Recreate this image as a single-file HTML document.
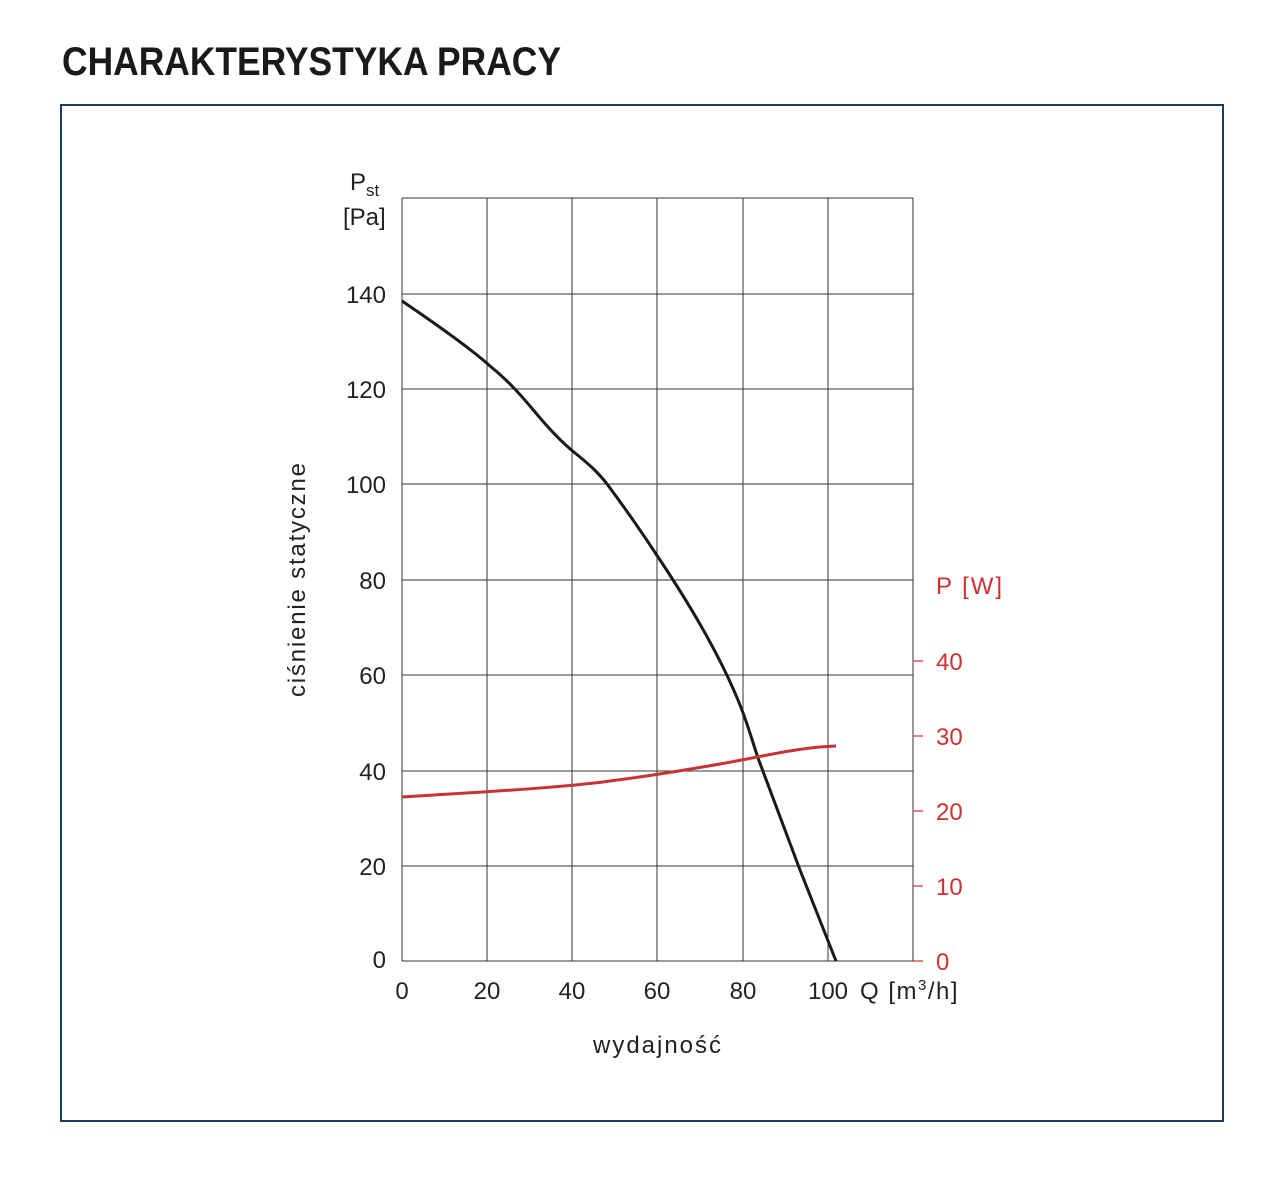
<!DOCTYPE html>
<html><head><meta charset="utf-8"><style>
html,body{margin:0;padding:0;background:#fff;}
</style></head><body>
<svg width="1280" height="1178" xmlns="http://www.w3.org/2000/svg" font-family="Liberation Sans, sans-serif">
<text x="62" y="75" font-size="40" font-weight="bold" fill="#1a1a1a" textLength="499" lengthAdjust="spacingAndGlyphs">CHARAKTERYSTYKA PRACY</text>
<rect x="61" y="105" width="1162" height="1016" fill="none" stroke="#1f3a5f" stroke-width="2"/>
<g stroke="#333" stroke-width="1">
<line x1="402" y1="198" x2="913" y2="198"/>
<line x1="402" y1="294" x2="913" y2="294"/>
<line x1="402" y1="389" x2="913" y2="389"/>
<line x1="402" y1="484" x2="913" y2="484"/>
<line x1="402" y1="580" x2="913" y2="580"/>
<line x1="402" y1="675" x2="913" y2="675"/>
<line x1="402" y1="771" x2="913" y2="771"/>
<line x1="402" y1="866" x2="913" y2="866"/>
<line x1="402" y1="961" x2="913" y2="961"/>
<line x1="402" y1="198" x2="402" y2="961"/>
<line x1="487" y1="198" x2="487" y2="961"/>
<line x1="572" y1="198" x2="572" y2="961"/>
<line x1="657" y1="198" x2="657" y2="961"/>
<line x1="743" y1="198" x2="743" y2="961"/>
<line x1="828" y1="198" x2="828" y2="961"/>
<line x1="913" y1="198" x2="913" y2="961"/>
</g>
<g stroke="#d03030" stroke-width="1.2">
<line x1="913" y1="661" x2="923" y2="661"/>
<line x1="913" y1="736" x2="923" y2="736"/>
<line x1="913" y1="811" x2="923" y2="811"/>
<line x1="913" y1="886" x2="923" y2="886"/>
<line x1="913" y1="961" x2="923" y2="961"/>
</g>
<g font-size="24" fill="#222" text-anchor="end">
<text x="386" y="303">140</text>
<text x="386" y="398">120</text>
<text x="386" y="493">100</text>
<text x="386" y="589">80</text>
<text x="386" y="684">60</text>
<text x="386" y="780">40</text>
<text x="386" y="875">20</text>
<text x="386" y="968">0</text>
</g>
<g font-size="24" fill="#222" text-anchor="middle">
<text x="402" y="999">0</text>
<text x="487" y="999">20</text>
<text x="572" y="999">40</text>
<text x="657" y="999">60</text>
<text x="743" y="999">80</text>
<text x="828" y="999">100</text>
</g>
<text x="860" y="999" font-size="24" fill="#222" letter-spacing="1.5">Q [m<tspan font-size="15" dy="-9">3</tspan><tspan dy="9">/h]</tspan></text>
<text x="657" y="1053" font-size="24" fill="#222" text-anchor="middle" textLength="128">wydajność</text>
<text x="350" y="190" font-size="24" fill="#222">P<tspan font-size="17" dy="6">st</tspan></text>
<text x="343" y="225" font-size="24" fill="#222">[Pa]</text>
<text transform="translate(305,580) rotate(-90)" font-size="24" fill="#222" text-anchor="middle" textLength="234">ciśnienie statyczne</text>
<g font-size="24" fill="#d03030">
<text x="936" y="594" textLength="66">P [W]</text>
<text x="936" y="670">40</text>
<text x="936" y="745">30</text>
<text x="936" y="820">20</text>
<text x="936" y="895">10</text>
<text x="936" y="970">0</text>
</g>
<path d="M402,301 C430,320 470,348 490,366 C510,382 525,400 535,412 C550,430 565,445 575,453 C590,465 600,474 610,488 C630,515 645,537 660,560 C690,605 720,655 740,705 C748,725 752,740 758,758 L800,870 L836,961" fill="none" stroke="#1a1a1a" stroke-width="3"/>
<path d="M402,797 C480,792 560,788 610,781 C650,776 680,771 720,764 C760,757 800,747 836,746" fill="none" stroke="#c83232" stroke-width="3"/>
</svg>
</body></html>
